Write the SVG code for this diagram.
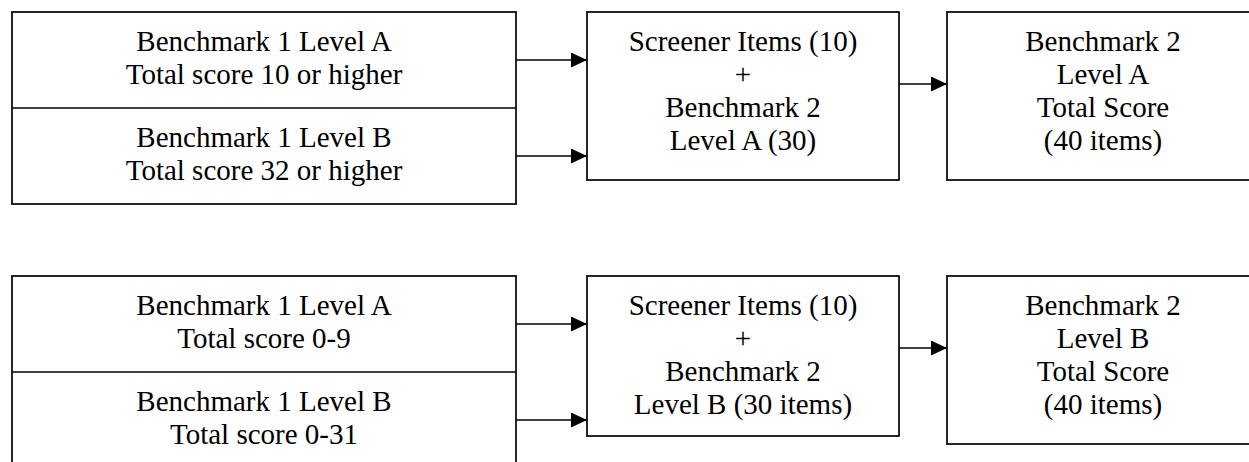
<svg xmlns="http://www.w3.org/2000/svg" width="1249" height="462" viewBox="0 0 1249 462">
<style>
.box{fill:#fff;stroke:#000;stroke-width:1.7}
.conn{stroke:#000;stroke-width:1.7;fill:none}
text{font-family:"Liberation Serif","Times New Roman",serif;font-size:29px;fill:#000;text-anchor:middle}
</style>
<defs>
<marker id="ah" markerUnits="userSpaceOnUse" markerWidth="16" markerHeight="15" refX="16" refY="7.5" orient="auto">
<path d="M0,0 L16,7.5 L0,15 Z" fill="#000"/>
</marker>
</defs>
<rect width="1249" height="462" fill="#fff"/>
<g id="g1-left">
<rect class="box" x="12" y="12" width="504" height="192"/>
<line class="conn" x1="12" y1="108" x2="516" y2="108"/>
<text x="264" y="51">Benchmark 1 Level A</text>
<text x="264" y="84">Total score 10 or higher</text>
<text x="264" y="147">Benchmark 1 Level B</text>
<text x="264" y="180">Total score 32 or higher</text>
</g>
<g id="g1-mid">
<rect class="box" x="587" y="12" width="312" height="168"/>
<text x="743" y="51">Screener Items (10)</text>
<text x="743" y="84">+</text>
<text x="743" y="117">Benchmark 2</text>
<text x="743" y="150">Level A (30)</text>
</g>
<g id="g1-right">
<rect class="box" x="947" y="12" width="312" height="168"/>
<text x="1103" y="51">Benchmark 2</text>
<text x="1103" y="84">Level A</text>
<text x="1103" y="117">Total Score</text>
<text x="1103" y="150">(40 items)</text>
</g>
<g id="g2-left">
<rect class="box" x="12" y="276" width="504" height="192"/>
<line class="conn" x1="12" y1="372" x2="516" y2="372"/>
<text x="264" y="315">Benchmark 1 Level A</text>
<text x="264" y="348">Total score 0-9</text>
<text x="264" y="411">Benchmark 1 Level B</text>
<text x="264" y="444">Total score 0-31</text>
</g>
<g id="g2-mid">
<rect class="box" x="587" y="276" width="312" height="160"/>
<text x="743" y="315">Screener Items (10)</text>
<text x="743" y="348">+</text>
<text x="743" y="381">Benchmark 2</text>
<text x="743" y="414">Level B (30 items)</text>
</g>
<g id="g2-right">
<rect class="box" x="947" y="276" width="312" height="168"/>
<text x="1103" y="315">Benchmark 2</text>
<text x="1103" y="348">Level B</text>
<text x="1103" y="381">Total Score</text>
<text x="1103" y="414">(40 items)</text>
</g>
<g id="connectors">
<line class="conn" x1="516" y1="60" x2="587" y2="60" marker-end="url(#ah)"/>
<line class="conn" x1="516" y1="156" x2="587" y2="156" marker-end="url(#ah)"/>
<line class="conn" x1="899" y1="84" x2="947" y2="84" marker-end="url(#ah)"/>
<line class="conn" x1="516" y1="324" x2="587" y2="324" marker-end="url(#ah)"/>
<line class="conn" x1="516" y1="420" x2="587" y2="420" marker-end="url(#ah)"/>
<line class="conn" x1="899" y1="348" x2="947" y2="348" marker-end="url(#ah)"/>
</g>
</svg>
